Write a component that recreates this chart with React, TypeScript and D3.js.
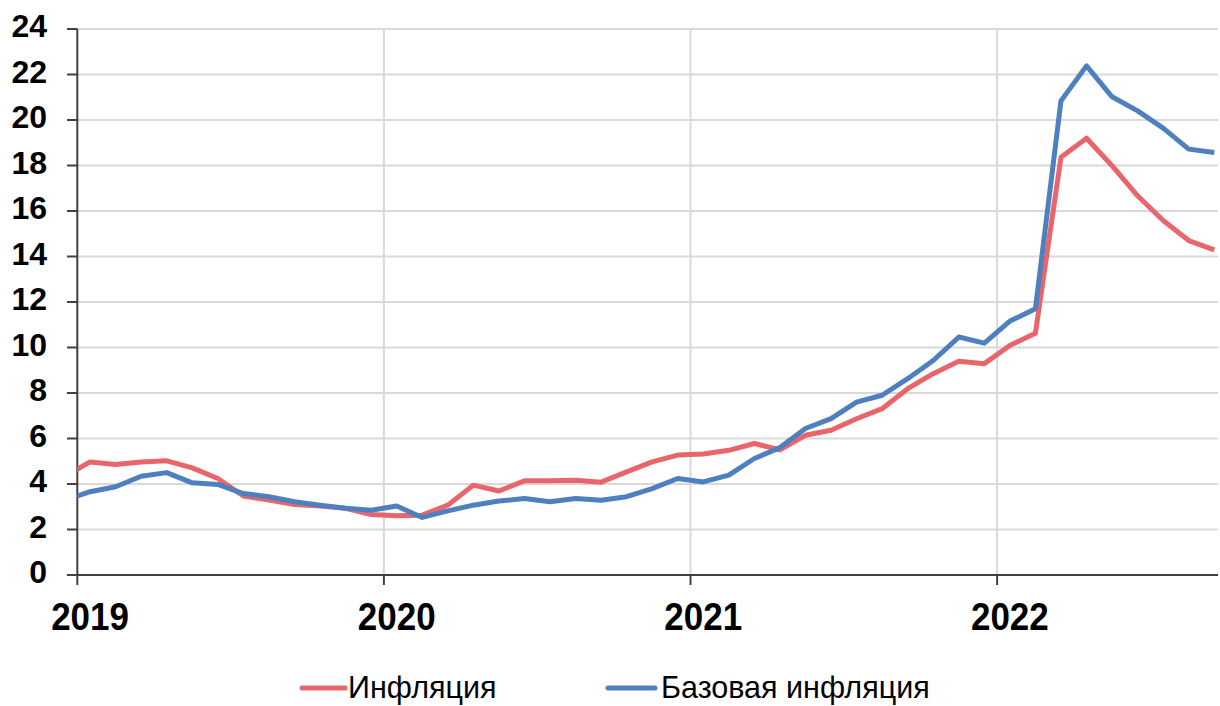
import React from "react";
import * as d3 from "d3";

// Months from Dec 2018 to Sep 2022 (index -1 = Dec 2018, 0 = Jan 2019)
const monthIndex: number[] = [
  -1, 0, 1, 2, 3, 4, 5, 6, 7, 8, 9, 10, 11,
  12, 13, 14, 15, 16, 17, 18, 19, 20, 21, 22, 23,
  24, 25, 26, 27, 28, 29, 30, 31, 32, 33, 34, 35,
  36, 37, 38, 39, 40, 41, 42, 43, 44,
];

const inflation: number[] = [
  4.33,
  4.97, 4.86, 4.97, 5.02, 4.71, 4.24, 3.47, 3.29, 3.1, 3.03, 2.93, 2.66,
  2.6, 2.63, 3.07, 3.95, 3.69, 4.14, 4.14, 4.17, 4.08, 4.53, 4.97, 5.27,
  5.32, 5.48, 5.78, 5.5, 6.14, 6.36, 6.87, 7.31, 8.19, 8.85, 9.4, 9.29,
  10.09, 10.63, 18.36, 19.2, 17.99, 16.67, 15.58, 14.7, 14.29,
];

const coreInflation: number[] = [
  3.28,
  3.66, 3.88, 4.34, 4.5, 4.05, 3.98, 3.58, 3.44, 3.22, 3.07, 2.93, 2.85,
  3.03, 2.53, 2.82, 3.07, 3.25, 3.36, 3.22, 3.36, 3.29, 3.44, 3.8, 4.24,
  4.09, 4.39, 5.12, 5.6, 6.44, 6.87, 7.6, 7.9, 8.63, 9.43, 10.46, 10.19,
  11.16, 11.7, 20.84, 22.38, 21.02, 20.4, 19.64, 18.72, 18.57,
];

const yearLabels: string[] = ["2019", "2020", "2021", "2022"];
const yTicks: number[] = [0, 2, 4, 6, 8, 10, 12, 14, 16, 18, 20, 22, 24];
const seriesNames: string[] = ["Инфляция", "Базовая инфляция"];
const seriesColors: string[] = ["#E8666B", "#4E80BF"];

export default function App() {
  const W = 1220;
  const H = 706;
  const left = 77.3;
  const right = 1218;
  const top = 29;
  const bottom = 575;
  const monthW = 25.55;

  const x = d3.scaleLinear().domain([0, 1]).range([left, left + monthW]);
  const y = d3.scaleLinear().domain([0, 24]).range([bottom, top]);

  const line = d3
    .line<number>()
    .x((_, i) => x(monthIndex[i] + 0.5))
    .y((v) => y(v));

  const font = "'Liberation Sans', Arial, sans-serif";
  const series = [inflation, coreInflation];

  return (
    <svg
      width={W}
      height={H}
      style={{ position: "absolute", left: 0, top: 0, background: "#fff" }}
    >
      <defs>
        <clipPath id="plot">
          <rect x={left} y={0} width={right - left} height={bottom + 5} />
        </clipPath>
      </defs>
      {/* horizontal grid */}
      {yTicks.map((t) =>
        t === 0 ? null : (
          <line
            key={"g" + t}
            x1={left}
            x2={right}
            y1={y(t)}
            y2={y(t)}
            stroke="#D9D9D9"
            strokeWidth={2}
          />
        )
      )}
      {/* vertical year grid */}
      {yearLabels.map((_, i) =>
        i === 0 ? null : (
          <line
            key={"v" + i}
            x1={x(i * 12)}
            x2={x(i * 12)}
            y1={top}
            y2={bottom}
            stroke="#D9D9D9"
            strokeWidth={2}
          />
        )
      )}
      {/* y axis */}
      <line x1={left} x2={left} y1={top} y2={bottom} stroke="#404040" strokeWidth={2} />
      {yTicks.map((t) => (
        <g key={"t" + t}>
          <line x1={67} x2={left} y1={y(t)} y2={y(t)} stroke="#404040" strokeWidth={2} />
          <text
            x={47}
            y={y(t) - 3}
            textAnchor="end"
            dominantBaseline="central"
            fontFamily={font}
            fontWeight="bold"
            fontSize={32}
            fill="#000"
          >
            {t}
          </text>
        </g>
      ))}
      {/* x axis */}
      <line x1={67} x2={right} y1={bottom} y2={bottom} stroke="#404040" strokeWidth={2} />
      {yearLabels.map((lab, i) => (
        <g key={"x" + lab}>
          <line
            x1={x(i * 12)}
            x2={x(i * 12)}
            y1={bottom}
            y2={bottom + 10}
            stroke="#404040"
            strokeWidth={2}
          />
          <text
            x={x(i * 12 + 0.5)}
            y={630}
            textAnchor="middle"
            fontFamily={font}
            fontWeight="bold"
            fontSize={35}
            fill="#000"
            transform={`translate(0, ${630 * -0.1}) scale(1, 1.1)`}
          >
            {lab}
          </text>
        </g>
      ))}
      {/* series */}
      <g clipPath="url(#plot)">
        {series.map((s, k) => (
          <path
            key={"s" + k}
            d={line(s) || ""}
            fill="none"
            stroke={seriesColors[k]}
            strokeWidth={5}
            strokeLinejoin="round"
          />
        ))}
      </g>
      {/* legend */}
      {[
        { x1: 302, x2: 345, tx: 348 },
        { x1: 608, x2: 655, tx: 661 },
      ].map((p, k) => (
        <g key={"l" + k}>
          <line
            x1={p.x1}
            x2={p.x2}
            y1={688}
            y2={688}
            stroke={seriesColors[k]}
            strokeWidth={5}
            strokeLinecap="round"
          />
          <text x={p.tx} y={698} fontFamily={font} fontSize={30.5} fill="#000">
            {seriesNames[k]}
          </text>
        </g>
      ))}
    </svg>
  );
}
